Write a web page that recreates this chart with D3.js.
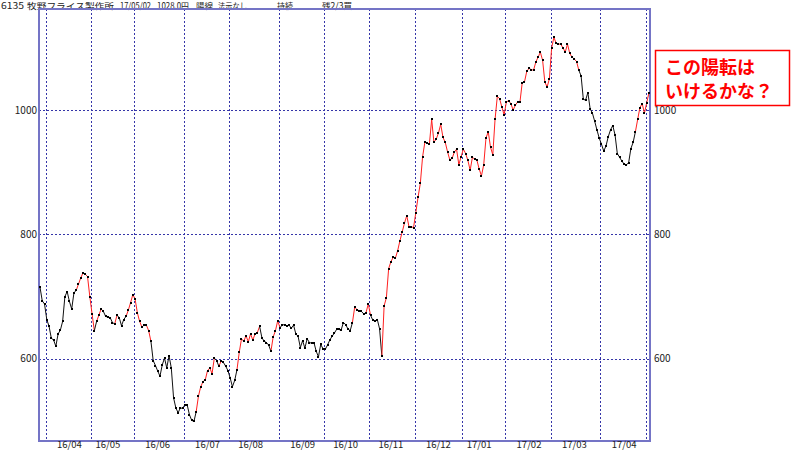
<!DOCTYPE html>
<html><head><meta charset="utf-8">
<script src="https://cdn.jsdelivr.net/npm/d3@7"></script>
<style>
body{margin:0;background:#fff}
svg{display:block}
text{font-family:"Noto Sans CJK JP","Noto Sans",sans-serif}
</style>
</head><body>
<svg id="chart" width="800" height="450"></svg>
<script>
// ---- data: daily closes (yen), one array per month ----
const mar16=[715,693,688];
const apr16=[663,652,633,630,620,640,646,660,700,708,692,680,706,710,720,730,738,736,732,700];
const may16=[672,645,660,670,680,676,668,667,666,658,656,670,666,653,663,668,678,690,703];
const jun16=[696,674,660,651,654,654,645,628,597,589,580,572,590,601,585,605,585,537,521,513,521,520];
const jul16=[526,526,510,501,499,515,540,555,563,566,581,585,576,601,597,588,596,594,588,581];
const aug16=[569,555,565,582,610,632,628,637,627,640,630,640,642,652,634,628,626,622,612,635,645,661];
const sep16=[650,654,655,652,654,649,654,640,636,618,629,617,632,626,625,626,612,603,623,616];
const oct16=[615,622,630,636,641,647,647,646,658,655,648,645,658,683,679,677,676,672,674,688];
const nov16=[670,662,660,663,648,604,685,698,745,756,763,762,774,790,804,818,830,812,812,811];
const dec16=[835,860,882,925,948,947,945,985,948,953,963,977,956,948,933,920,922,932,937,912,925];
const jan17=[937,930,919,903,924,921,919,905,894,912,955,965,940,928,985,1022,1018,1005,992];
const feb17=[1013,1015,1010,1000,1008,1013,1013,1044,1045,1062,1067,1065,1064,1077,1085,1093,1080,1045,1037,1050];
const mar17=[1100,1117,1107,1106,1106,1100,1093,1106,1091,1085,1082,1078,1064,1055,1017,1016,1028,1002,995,982,968,955];
const apr17=[945,934,942,957,968,975,960,930,924,918,913,912,915,938,948,965,985,1004,1010,995];
const may17=[1012,1028];

// index ranges (trading-day index) where the trend signal is bullish
const bullishRuns=[[17,24],[26,28],[34,34],[39,49],[70,77],[80,81],[88,97],[103,106],[139,141],[145,146],[152,238],[264,269]];

const monthLabels=["16/04","16/05","16/06","16/07","16/08","16/09","16/10","16/11","16/12","17/01","17/02","17/03","17/04"];
const monthStartIdx=[3,23,42,64,84,106,126,146,166,187,206,226,248,268];
const midMonthIdx=[13,30,52,74,93,116,135,155,176,194,216,236,258];
const yTicks=[600,800,1000];
const headerTexts=["6135","牧野フライス製作所","17/05/02","1028.0円","陽線","法示なし","持続","残2/3買"];
const noteLines=["この陽転は","いけるかな？"];

const closes=[].concat(mar16,apr16,may16,jun16,jul16,aug16,sep16,oct16,nov16,dec16,jan17,feb17,mar17,apr17,may17);

// ---- layout ----
const svg=d3.select("#chart");
const L=39,R=650,T=9,B=441;
const x=d3.scaleLinear().domain([0,closes.length-1]).range([40,649]);
const y=d3.scaleLinear().domain([600,1000]).range([358.7,110]);
const gridColor="#3535a8";
const isBull=i=>bullishRuns.some(r=>i>=r[0]&&i<=r[1]);

// header
const headerX=[1,27,120,157,196,218,277,322];
const headerW=[23,87,31,32,17,29,16,30];
svg.append("g").selectAll("text").data(headerTexts).join("text")
  .attr("x",(d,i)=>headerX[i]).attr("y",8.5)
  .attr("textLength",(d,i)=>headerW[i]).attr("lengthAdjust","spacingAndGlyphs")
  .attr("font-size",8.5).attr("fill","#222").text(d=>d);

// gridlines
svg.append("g").selectAll("line").data(monthStartIdx).join("line")
  .attr("x1",d=>Math.round(x(d-0.5))+0.5).attr("x2",d=>Math.round(x(d-0.5))+0.5)
  .attr("y1",T).attr("y2",B)
  .attr("stroke",gridColor).attr("stroke-width",1).attr("stroke-dasharray","2,2");
svg.append("g").selectAll("line").data(yTicks).join("line")
  .attr("x1",L).attr("x2",R)
  .attr("y1",d=>Math.round(y(d))+0.5).attr("y2",d=>Math.round(y(d))+0.5)
  .attr("stroke",gridColor).attr("stroke-width",1).attr("stroke-dasharray","2,2");

// frame
svg.append("rect").attr("x",L).attr("y",T).attr("width",R-L).attr("height",B-T)
  .attr("fill","none").attr("stroke","#7474c6").attr("stroke-width",2);

// y labels
const yl=svg.append("g").attr("font-size",10).attr("fill","#222");
yl.selectAll("text.l").data(yTicks).join("text").attr("class","l")
  .attr("x",37).attr("y",d=>y(d)+3.5).attr("text-anchor","end").text(d=>d);
yl.selectAll("text.r").data(yTicks).join("text").attr("class","r")
  .attr("x",654).attr("y",d=>y(d)+3.5).attr("text-anchor","start").text(d=>d);

// x labels
svg.append("g").selectAll("text").data(monthLabels).join("text")
  .attr("x",(d,i)=>x(midMonthIdx[i])).attr("y",447.5)
  .attr("text-anchor","middle").attr("font-size",9.5).attr("fill","#222").text(d=>d);

// price line segments
const segs=d3.range(1,closes.length).map(i=>({i,a:closes[i-1],b:closes[i]}));
svg.append("g").selectAll("line").data(segs).join("line")
  .attr("x1",d=>x(d.i-1)).attr("y1",d=>y(d.a))
  .attr("x2",d=>x(d.i)).attr("y2",d=>y(d.b))
  .attr("stroke",d=>isBull(d.i)?"#ff2020":"#111").attr("stroke-width",1);

// dots
svg.append("g").selectAll("rect").data(closes).join("rect")
  .attr("x",(d,i)=>Math.round(x(i))-1).attr("y",d=>Math.round(y(d))-1)
  .attr("width",2).attr("height",2).attr("fill","#000");

// annotation
svg.append("rect").attr("x",655.5).attr("y",50.5).attr("width",134).attr("height",55)
  .attr("fill","#fff").attr("stroke","#ff0000").attr("stroke-width",1.5);
svg.append("g").selectAll("text").data(noteLines).join("text")
  .attr("x",665).attr("y",(d,i)=>74+i*24)
  .attr("font-size",18).attr("font-weight","bold").attr("fill","#ff0000").text(d=>d);
</script>
</body></html>
